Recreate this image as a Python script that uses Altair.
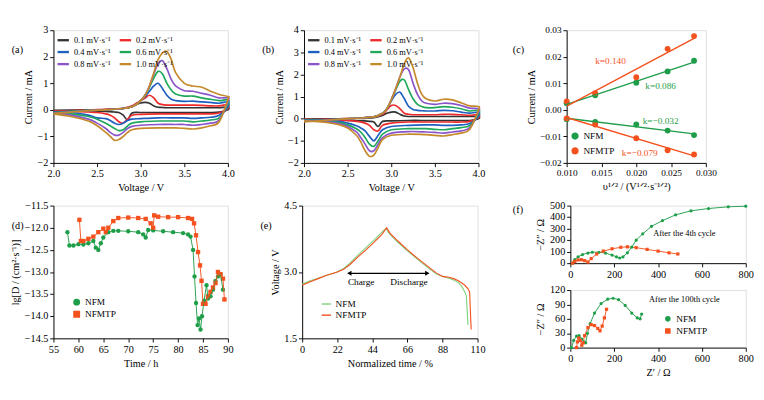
import altair as alt
import pandas as pd

FONT = "Liberation Serif"
RATES = ["0.1 mV·s⁻¹", "0.2 mV·s⁻¹", "0.4 mV·s⁻¹", "0.6 mV·s⁻¹", "0.8 mV·s⁻¹", "1.0 mV·s⁻¹"]
RCOL = ["#333333", "#ee2a2a", "#1f5fbf", "#1fa85a", "#8a55c8", "#c58a2c"]
LEG_ORDER = [0, 2, 4, 1, 3, 5]
GREEN, RED = "#1f9e4a", "#f4511e"

U = [2.0,2.4,2.6,2.8,2.9,2.95,3.0,3.05,3.1,3.15,3.2,3.25,3.3,3.35,3.4,3.5,3.6,3.7,3.8,3.9,4.0]
L = [4.0,3.9,3.8,3.7,3.6,3.5,3.4,3.2,3.0,2.9,2.85,2.8,2.75,2.7,2.65,2.6,2.5,2.4,2.2,2.0]

a_up = [
 [-0.02,0,0.01,0.05,0.12,0.2,0.26,0.28,0.25,0.15,0.1,0.09,0.08,0.08,0.08,0.08,0.08,0.08,0.08,0.08,0.1],
 [-0.05,0,0.02,0.06,0.15,0.25,0.35,0.45,0.55,0.45,0.25,0.2,0.18,0.18,0.18,0.18,0.18,0.17,0.15,0.15,0.2],
 [-0.08,-0.02,0.0,0.05,0.12,0.2,0.35,0.5,0.7,0.9,1.0,0.8,0.55,0.4,0.35,0.32,0.33,0.3,0.28,0.25,0.3],
 [-0.1,-0.02,0.0,0.05,0.12,0.2,0.35,0.55,0.85,1.2,1.45,1.35,1.0,0.75,0.6,0.52,0.52,0.45,0.4,0.35,0.38],
 [-0.12,-0.03,0.0,0.05,0.12,0.2,0.35,0.55,0.9,1.35,1.75,1.85,1.55,1.15,0.9,0.72,0.7,0.62,0.55,0.45,0.45],
 [-0.14,-0.03,0.0,0.05,0.12,0.2,0.35,0.55,0.9,1.4,1.9,2.15,2.2,1.9,1.4,1.0,0.9,0.85,0.7,0.58,0.5]]
a_lo = [
 [0.0,-0.08,-0.1,-0.1,-0.1,-0.1,-0.1,-0.1,-0.1,-0.12,-0.38,-0.2,-0.1,-0.08,-0.07,-0.06,-0.05,-0.04,-0.03,-0.02],
 [0.05,-0.12,-0.15,-0.15,-0.15,-0.15,-0.15,-0.15,-0.17,-0.2,-0.35,-0.5,-0.45,-0.3,-0.2,-0.15,-0.1,-0.08,-0.05,-0.05],
 [0.1,-0.2,-0.28,-0.3,-0.32,-0.3,-0.3,-0.3,-0.33,-0.35,-0.4,-0.5,-0.55,-0.5,-0.4,-0.33,-0.3,-0.2,-0.1,-0.07],
 [0.2,-0.3,-0.38,-0.42,-0.45,-0.42,-0.42,-0.42,-0.45,-0.5,-0.6,-0.75,-0.78,-0.7,-0.6,-0.5,-0.35,-0.25,-0.15,-0.1],
 [0.3,-0.38,-0.5,-0.55,-0.58,-0.55,-0.55,-0.55,-0.58,-0.62,-0.7,-0.85,-0.95,-0.95,-0.85,-0.7,-0.5,-0.35,-0.2,-0.12],
 [0.4,-0.45,-0.6,-0.68,-0.72,-0.7,-0.68,-0.68,-0.7,-0.75,-0.85,-1.0,-1.12,-1.15,-1.0,-0.85,-0.6,-0.42,-0.25,-0.15]]
b_up = [
 [-0.02,0,0.01,0.05,0.15,0.25,0.3,0.3,0.2,0.12,0.1,0.1,0.1,0.1,0.1,0.1,0.1,0.1,0.1,0.1,0.1],
 [-0.05,0,0.02,0.08,0.2,0.4,0.6,0.6,0.45,0.25,0.2,0.18,0.18,0.18,0.18,0.18,0.2,0.2,0.18,0.15,0.2],
 [-0.08,-0.02,0.02,0.08,0.25,0.45,0.8,1.1,1.2,0.9,0.55,0.42,0.38,0.36,0.35,0.35,0.38,0.36,0.3,0.25,0.3],
 [-0.1,-0.02,0.02,0.08,0.25,0.45,0.85,1.3,1.7,1.75,1.3,0.9,0.65,0.55,0.5,0.5,0.55,0.52,0.45,0.35,0.38],
 [-0.12,-0.03,0.02,0.08,0.25,0.45,0.85,1.35,1.9,2.25,2.2,1.6,1.1,0.8,0.7,0.65,0.7,0.68,0.6,0.48,0.45],
 [-0.14,-0.03,0.02,0.08,0.25,0.45,0.85,1.35,1.9,2.5,2.75,2.3,1.6,1.1,0.9,0.8,0.88,0.85,0.72,0.58,0.55]]
b_lo = [
 [0,-0.08,-0.08,-0.08,-0.08,-0.08,-0.08,-0.08,-0.1,-0.12,-0.35,-0.15,-0.12,-0.1,-0.1,-0.1,-0.08,-0.05,-0.03,-0.02],
 [0.05,-0.12,-0.15,-0.15,-0.15,-0.15,-0.15,-0.15,-0.2,-0.3,-0.55,-0.5,-0.3,-0.2,-0.15,-0.12,-0.08,-0.06,-0.04,-0.03],
 [0.1,-0.22,-0.28,-0.3,-0.3,-0.28,-0.28,-0.3,-0.35,-0.5,-0.75,-1.0,-0.8,-0.55,-0.42,-0.32,-0.2,-0.12,-0.07,-0.05],
 [0.2,-0.3,-0.4,-0.45,-0.5,-0.48,-0.45,-0.45,-0.5,-0.7,-1.0,-1.25,-1.15,-0.85,-0.6,-0.45,-0.28,-0.18,-0.1,-0.07],
 [0.3,-0.4,-0.55,-0.6,-0.65,-0.62,-0.6,-0.58,-0.65,-0.85,-1.15,-1.45,-1.45,-1.15,-0.85,-0.6,-0.35,-0.22,-0.12,-0.08],
 [0.4,-0.48,-0.65,-0.72,-0.78,-0.75,-0.72,-0.7,-0.75,-0.95,-1.3,-1.65,-1.7,-1.45,-1.05,-0.75,-0.42,-0.27,-0.15,-0.1]]

# (c)
c_x = [0.01, 0.0141, 0.02, 0.0245, 0.0283]
c_nfm_up = [0.0025, 0.0055, 0.0102, 0.0145, 0.0185]
c_nfmtp_up = [0.0032, 0.0063, 0.0123, 0.0230, 0.0278]
c_nfm_dn = [-0.0035, -0.0045, -0.0055, -0.0078, -0.0095]
c_nfmtp_dn = [-0.0032, -0.0055, -0.0107, -0.0152, -0.0168]
c_k_text = ["k=0.140", "k=0.086", "k=−0.032", "k=−0.079"]
c_k_x = [0.0163, 0.0235, 0.0235, 0.0205]
c_k_y = [0.0185, 0.0088, -0.0042, -0.0165]
c_k_col = ["NFMTP", "NFM", "NFM", "NFMTP"]

# (d)
d_nfm_t = [57.8,58.2,59,60,61,62,63,63.5,64,64.5,65,66,67,68,70,72,73,73.5,74,75,77,79,81,82,82.5,83,83.3,83.6,83.9,84.2,84.5,84.8,85.2,85.7,86,86.5,87,87.5,88,88.5,89]
d_nfm_v = [-12.1,-12.4,-12.4,-12.37,-12.38,-12.35,-12.3,-12.45,-12.5,-12.35,-12.22,-12.1,-12.07,-12.07,-12.08,-12.1,-12.15,-12.22,-12.05,-12.06,-12.08,-12.1,-12.12,-12.15,-12.2,-12.5,-13.1,-13.7,-14.2,-14.05,-14.3,-14.0,-13.65,-13.3,-13.6,-13.55,-13.4,-13.2,-13.1,-13.05,-13.4]
d_tp_t = [60.2,60.5,61,62,63,64,65,65.5,66,67,68,70,72,73.5,74.5,75,75.2,76,78,80,82,82.8,83.2,83.6,84,84.4,84.7,85,85.5,86,86.5,87,87.5,88,88.5,89,89.3]
d_tp_v = [-11.82,-12.3,-12.3,-12.25,-12.2,-12.1,-12.02,-12.1,-12.0,-11.85,-11.78,-11.77,-11.78,-11.8,-11.9,-12.0,-11.72,-11.75,-11.76,-11.76,-11.78,-11.8,-11.9,-12.17,-12.55,-12.85,-13.2,-13.72,-13.72,-13.55,-13.45,-13.35,-13.25,-13.0,-13.05,-13.15,-13.62]

# (e)
e_nfm_x = [0,5,10,15,22,26,30,35,40,45,50,52.5,55,60,66,72,78,84,88,92,95,98,100,102,103,103.5,104]
e_nfm_y = [2.72,2.8,2.86,2.92,3.0,3.08,3.2,3.38,3.55,3.72,3.9,3.98,3.85,3.67,3.48,3.3,3.12,2.96,2.9,2.86,2.82,2.76,2.68,2.55,2.45,2.1,1.8]
e_tp_x = [0,5,10,15,22,26,30,35,40,45,50,53,55,60,66,72,78,84,88,92,95,98,100,102,104,105,105.5,106]
e_tp_y = [2.7,2.78,2.85,2.92,3.0,3.06,3.17,3.34,3.5,3.67,3.85,4.0,3.88,3.7,3.5,3.32,3.15,2.98,2.9,2.88,2.85,2.8,2.75,2.7,2.62,2.55,2.1,1.7]

# (f)
f1_nfm_x = [10,20,35,55,80,100,130,160,190,210,225,240,260,280,300,330,370,420,480,550,630,720,800]
f1_nfm_y = [0,30,55,75,88,95,95,88,70,55,45,55,90,140,200,255,320,370,420,455,475,490,495]
f1_tp_x = [10,20,35,50,65,80,95,120,150,190,230,260,300,350,400,450,490]
f1_tp_y = [0,15,28,30,22,10,40,80,105,125,138,142,135,120,105,90,80]
f2_nfm_x = [5,15,28,40,52,62,70,78,90,110,140,170,195,220,250,280,305,318,325]
f2_nfm_y = [0,15,24,25,18,12,10,30,50,72,92,101,103,100,88,72,62,60,70]
f2_tp_x = [28,32,38,45,52,58,65,80,95,110,125,135,145,155,165]
f2_tp_y = [0,12,20,15,5,10,25,42,48,46,40,35,45,62,80]

axcfg = dict(labelFont=FONT, titleFont=FONT, titleFontSize=11,
             titleFontWeight="normal", labelColor="black", titleColor="black",
             domainColor="black", tickColor="black", grid=False, labelOverlap=False,
             labelFlush=False, tickSize=4, titlePadding=4)

def ax(title, values=None, fmt=None, size=11, **kw):
    d = dict(title=title, labelFontSize=size, **axcfg, **kw)
    if values is not None:
        d["values"] = values
    if fmt:
        d["format"] = fmt
    return alt.Axis(**d)

def sc(lo, hi):
    return alt.Scale(domain=[lo, hi], nice=False, zero=False)

def label(t, x=-45, y=22):
    return alt.Chart(pd.DataFrame({"t": [t]})).mark_text(font=FONT, fontSize=11, align="left").encode(
        x=alt.value(x), y=alt.value(y), text="t:N")

H = 143

def cv_panel(up, lo, ymin, ymax, yvals, tag):
    rows = []
    for i, r in enumerate(RATES):
        k = 0
        for v, c in zip(U, up[i]):
            rows.append(dict(rate=r, o=k, V=v, I=c)); k += 1
        for v, c in zip(L, lo[i]):
            rows.append(dict(rate=r, o=k, V=v, I=c)); k += 1
    df = pd.DataFrame(rows)
    line = alt.Chart(df).mark_line(strokeWidth=1.8, interpolate="cardinal").encode(
        x=alt.X("V:Q", scale=sc(2.0, 4.0), axis=ax("Voltage / V", [2.0, 2.5, 3.0, 3.5, 4.0], ".1f")),
        y=alt.Y("I:Q", scale=sc(ymin, ymax), axis=ax("Current / mA", yvals, "d")),
        color=alt.Color("rate:N", scale=alt.Scale(domain=[RATES[j] for j in LEG_ORDER], range=[RCOL[j] for j in LEG_ORDER]),
                        legend=alt.Legend(title=None, orient="top-left", columns=2, symbolType="stroke",
                                          symbolStrokeWidth=2.5, symbolSize=150, labelFont=FONT, labelFontSize=9,
                                          rowPadding=0, columnPadding=4, padding=0, offset=3, labelLimit=80)),
        order="o:Q")
    return alt.layer(line, label(tag)).properties(width=188, height=H)

pa = cv_panel(a_up, a_lo, -2, 3, [-2, -1, 0, 1, 2, 3], "(a)")
pb = cv_panel(b_up, b_lo, -2, 4, [-2, -1, 0, 1, 2, 3, 4], "(b)")

# (c)
crows = []
for s, g, ys in [("NFM", "nu", c_nfm_up), ("NFMTP", "tu", c_nfmtp_up), ("NFM", "nd", c_nfm_dn), ("NFMTP", "td", c_nfmtp_dn)]:
    for x, y in zip(c_x, ys):
        crows.append(dict(s=s, g=g, x=x, y=y))
cdf = pd.DataFrame(crows)
ccol = alt.Scale(domain=["NFM", "NFMTP"], range=[GREEN, RED])
xc = alt.X("x:Q", scale=sc(0.01, 0.03), axis=ax("υ¹ᐟ² / (V¹ᐟ²·s⁻¹ᐟ²)", [0.01, 0.015, 0.02, 0.025, 0.03], ".3f", size=10))
yc = alt.Y("y:Q", scale=sc(-0.02, 0.03), axis=ax("Current / mA", [-0.02, -0.01, 0, 0.01, 0.02, 0.03], ".2f", size=10))
cleg = alt.Legend(title=None, orient="none", legendX=4, legendY=H - 34, labelFont=FONT, labelFontSize=10,
                  symbolType="circle", padding=0, rowPadding=2, symbolSize=40)
ccolor = alt.Color("s:N", scale=ccol, legend=cleg)
cpts = alt.Chart(cdf).mark_circle(size=40, opacity=1).encode(x=xc, y=yc, color=ccolor)
creg = alt.Chart(cdf).transform_regression("x", "y", groupby=["g", "s"]).mark_line(strokeWidth=1.5).encode(
    x=xc, y=yc, color=ccolor, detail="g:N")
ktxt = alt.Chart(pd.DataFrame({"t": c_k_text, "x": c_k_x, "y": c_k_y, "s": c_k_col})).mark_text(
    font=FONT, fontSize=10).encode(x=xc, y=yc, text="t:N", color=ccolor)
pc = alt.layer(cpts, creg, ktxt, label("(c)", -58)).properties(width=150, height=H)

# (d)
ddf = pd.concat([pd.DataFrame({"t": d_nfm_t, "v": d_nfm_v, "s": "NFM"}),
                 pd.DataFrame({"t": d_tp_t, "v": d_tp_v, "s": "NFMTP"})])
dleg = alt.Legend(title=None, orient="bottom-left", labelFont=FONT, labelFontSize=10, padding=2, rowPadding=1, symbolSize=35)
dcol = alt.Color("s:N", scale=ccol, legend=dleg)
dshape = alt.Shape("s:N", scale=alt.Scale(domain=["NFM", "NFMTP"], range=["circle", "square"]), legend=dleg)
dx = alt.X("t:Q", scale=sc(55, 90), axis=ax("Time / h", [55, 60, 65, 70, 75, 80, 85, 90]))
dy = alt.Y("v:Q", scale=sc(-14.5, -11.5), axis=ax("lg[D / (cm²·s⁻¹)]", [-14.5, -14, -13.5, -13, -12.5, -12, -11.5], ".1f"))
dp = alt.Chart(ddf).mark_point(filled=True, size=22, opacity=1).encode(x=dx, y=dy, color=dcol, shape=dshape)
dl = alt.Chart(ddf).mark_line(strokeWidth=1).encode(x=dx, y=dy, color=dcol)
pd_ = alt.layer(dp, dl, label("(d)")).properties(width=188, height=H)

# (e)
edf = pd.concat([pd.DataFrame({"x": e_nfm_x, "y": e_nfm_y, "s": "NFM"}),
                 pd.DataFrame({"x": e_tp_x, "y": e_tp_y, "s": "NFMTP"})])
ecol = alt.Scale(domain=["NFM", "NFMTP"], range=["#7fd17f", RED])
ex = alt.X("x:Q", scale=sc(0, 110), axis=ax("Normalized time / %", [0, 22, 44, 66, 88, 110]))
ey = alt.Y("y:Q", scale=sc(1.5, 4.5), axis=ax("Voltage / V", [1.5, 3.0, 4.5], ".1f"))
el = alt.Chart(edf).mark_line(strokeWidth=1.2).encode(
    x=ex, y=ey,
    color=alt.Color("s:N", scale=ecol, legend=alt.Legend(title=None, orient="bottom-left", labelFont=FONT, labelFontSize=10,
                                                          symbolType="stroke", padding=2, rowPadding=1)))
arr = alt.Chart(pd.DataFrame({"x": [30], "x2": [78], "y": [2.97]})).mark_rule(color="black", strokeWidth=1.2).encode(
    x=ex, x2="x2:Q", y=ey)
heads = alt.Chart(pd.DataFrame({"x": [30, 78], "y": [2.97, 2.97], "a": [270, 90]})).mark_point(
    shape="triangle", filled=True, color="black", size=30, opacity=1).encode(x=ex, y=ey, angle=alt.Angle("a:Q", scale=None))
etxt = alt.Chart(pd.DataFrame({"x": [37, 67], "y": [2.78, 2.78], "t": ["Charge", "Discharge"]})).mark_text(
    font=FONT, fontSize=10).encode(x=ex, y=ey, text="t:N")
pe = alt.layer(el, arr, heads, etxt, label("(e)")).properties(width=189, height=H)

# (f)
fshape = alt.Shape("s:N", scale=alt.Scale(domain=["NFM", "NFMTP"], range=["circle", "square"]), legend=None)
def nyq(nx, ny, tx, ty, ymax, yvals, xtitle, note, note_y, legend):
    df = pd.concat([pd.DataFrame({"x": nx, "y": ny, "s": "NFM"}), pd.DataFrame({"x": tx, "y": ty, "s": "NFMTP"})])
    leg = alt.Legend(title=None, orient="none", legendX=100, legendY=26, labelFont=FONT, labelFontSize=10,
                     padding=0, rowPadding=1, symbolSize=20) if legend else None
    col = alt.Color("s:N", scale=ccol, legend=leg)
    fx = alt.X("x:Q", scale=sc(0, 800), axis=ax(xtitle, [0, 200, 400, 600, 800]))
    fy = alt.Y("y:Q", scale=sc(0, ymax), axis=ax("−Z″ / Ω", yvals))
    l = alt.Chart(df).mark_line(strokeWidth=1).encode(x=fx, y=fy, color=col)
    p = alt.Chart(df).mark_point(filled=True, size=12, opacity=1).encode(x=fx, y=fy, color=col, shape=fshape)
    t = alt.Chart(pd.DataFrame({"x": [520], "y": [note_y], "t": [note]})).mark_text(font=FONT, fontSize=9).encode(
        x=fx, y=fy, text="t:N")
    return alt.layer(l, p, t).properties(width=189, height=62)

f1 = nyq(f1_nfm_x, f1_nfm_y, f1_tp_x, f1_tp_y, 500, [0, 100, 200, 300, 400, 500], None, "After the 4th cycle", 260, False)
f2 = nyq(f2_nfm_x, f2_nfm_y, f2_tp_x, f2_tp_y, 120, [0, 30, 60, 90, 120], "Z′ / Ω", "After the 100th cycle", 100, True)
f1 = alt.layer(f1, label("(f)", -62, 5))
pf = alt.vconcat(f1, f2, spacing=4).resolve_scale(color="independent", shape="independent")

top = alt.hconcat(pa, pb, pc, spacing=28).resolve_scale(color="independent")
bot = alt.hconcat(pd_, pe, pf, spacing=28).resolve_scale(color="independent", shape="independent")
chart = alt.vconcat(top, bot, spacing=6).resolve_scale(color="independent", shape="independent").configure_view(
    stroke="black", strokeWidth=1).configure(background="white", padding=2)

chart.save("out.html", embed_options={"renderer": "svg", "actions": False})
